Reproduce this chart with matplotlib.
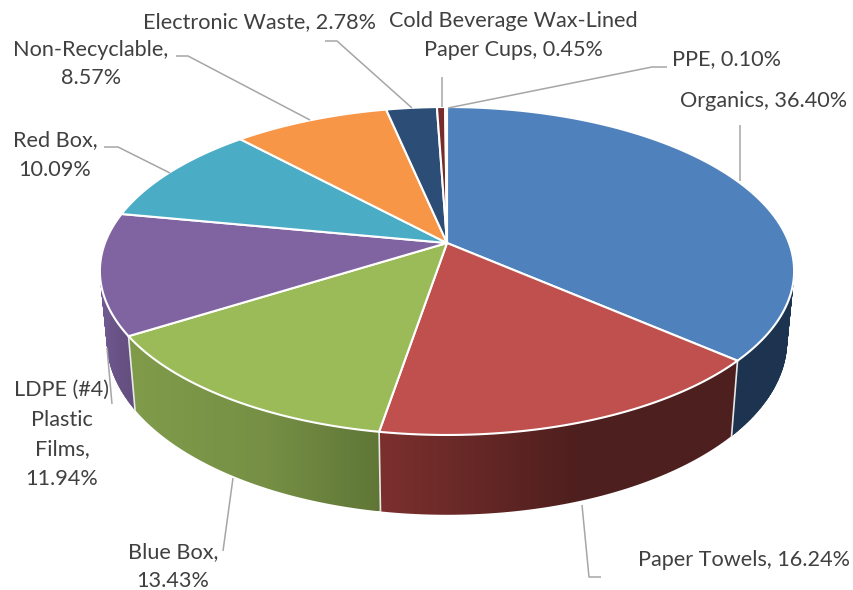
import numpy as np
import matplotlib
matplotlib.use('Agg')
import matplotlib.pyplot as plt
from matplotlib.colors import to_rgb
from matplotlib.patches import Polygon

# pie data
categories = ['Organics', 'Paper Towels', 'Blue Box', 'LDPE (#4) Plastic Films', 'Red Box',
              'Non-Recyclable', 'Electronic Waste', 'Cold Beverage Wax-Lined Paper Cups', 'PPE']
values = [36.40, 16.24, 13.43, 11.94, 10.09, 8.57, 2.78, 0.45, 0.10]

# slice colours, and the wall gradient (left, middle, right)
colors = ['#4F81BD', '#C0504D', '#9BBB59', '#8064A2', '#4BACC6', '#F79646', '#2C4D75', '#772C2A', '#5F7530']
wall_left = ['#1D3450', '#7C302E', '#809C4A', '#6F5A90', '#2F7F95', '#B86F30', '#1D3450', '#4F1E1D', '#3F4E20']
wall_mid = ['#1D3450', '#4E1F1E', '#768F45', '#685285', '#2F7F95', '#B86F30', '#1D3450', '#4F1E1D', '#3F4E20']
wall_right = ['#1D3450', '#4D1F1E', '#5F7636', '#624E7E', '#2F7F95', '#B86F30', '#1D3450', '#4F1E1D', '#3F4E20']

# label text, x centre, y of each line
labels = [
    (['Organics, 36.40%'], 764, [101]),
    (['Paper Towels, 16.24%'], 744, [560]),
    (['Blue Box,', '13.43%'], 173, [552, 581]),
    (['LDPE (#4)', 'Plastic', 'Films,', '11.94%'], 62, [390, 420, 449, 479]),
    (['Red Box,', '10.09%'], 55, [140, 170]),
    (['Non-Recyclable,', '8.57%'], 91, [50, 78]),
    (['Electronic Waste, 2.78%'], 260, [22]),
    (['Cold Beverage Wax-Lined', 'Paper Cups, 0.45%'], 513, [21, 50]),
    (['PPE, 0.10%'], 727, [59]),
]

# leader lines, pixel paths
leaders = [
    [(740, 181), (740, 125)],
    [(582, 505), (589, 577), (601, 577)],
    [(233, 478), (223, 551)],
    [(107, 348), (112, 404)],
    [(170, 173), (118, 147), (104, 147)],
    [(310, 120), (188, 56), (176, 56)],
    [(412, 108), (337, 41), (325, 41)],
    [(442, 107), (442, 77)],
    [(448, 108), (652, 67), (667, 67)],
]

# perspective of the disc
CX = 447
K = 0.1707


def top_rim(theta):
    u, v = np.sin(theta), np.cos(theta)
    w = 1 + K * v
    return CX + 342 * u / w, 243 - 159.2 * v / w


def bottom_rim(theta):
    u, v = np.sin(theta), np.cos(theta)
    w = 1 + K * v
    return CX + 335 * u / w, 311 - 169 * v / w


fig = plt.figure(figsize=(8.54, 5.9), dpi=100)
ax = fig.add_axes([0, 0, 1, 1])
ax.axis('off')

edges = np.radians(np.concatenate([[0], np.cumsum(values)]) * 3.6)

# side walls first, only the front part shows
front_start, front_end = np.radians(70), np.radians(290)
for i in range(len(values)):
    a0, a1 = max(edges[i], front_start), min(edges[i + 1], front_end)
    if a1 <= a0:
        continue
    t = np.linspace(a0, a1, 120)
    xt, yt = top_rim(t)
    xb, yb = bottom_rim(t)
    # flat sweep under the outer walls, it fills the silhouette next to the rim
    if i == 0 or i == 3:
        for j in range(len(t) - 1):
            ax.fill([xt[j], xt[j + 1], xb[j + 1], xb[j]], [yt[j], yt[j + 1], yb[j + 1], yb[j]],
                    facecolor=wall_left[i], edgecolor=wall_left[i], lw=0.3, zorder=1)
    px = np.r_[xt, xb[::-1]]
    py = np.r_[yt, yb[::-1]]
    stops = [to_rgb(wall_left[i]), to_rgb(wall_mid[i]), to_rgb(wall_right[i])]
    f = np.linspace(0, 1, 256)
    grad = np.stack([np.interp(f, [0, 0.55, 1], [s[k] for s in stops]) for k in range(3)], axis=-1)
    im = ax.imshow(grad[np.newaxis, :, :], extent=[px.min(), px.max(), py.max(), py.min()],
                   aspect='auto', zorder=2, interpolation='bilinear')
    wall = Polygon(np.column_stack([px, py]), closed=True, transform=ax.transData,
                   facecolor='none', edgecolor='none')
    ax.add_patch(wall)
    im.set_clip_path(wall)

# white seams between the walls
for a in edges[1:4]:
    xt, yt = top_rim(a)
    xb, yb = bottom_rim(a)
    ax.plot([xt, xb], [yt, yb], color='#E8E8E8', lw=1.2, zorder=3)

# top of the pie
for i in range(len(values)):
    t = np.linspace(edges[i], edges[i + 1], 200)
    xt, yt = top_rim(t)
    ax.fill(np.r_[CX, xt], np.r_[243, yt], facecolor=colors[i], edgecolor='white', lw=1.5,
            joinstyle='round', zorder=4)

# leaders and labels
for path in leaders:
    xs, ys = zip(*path)
    ax.plot(xs, ys, color='#A6A6A6', lw=1.1, zorder=5, solid_capstyle='butt')

for lines, x, ys in labels:
    for line, y in zip(lines, ys):
        ax.text(x, y, line, ha='center', va='center', fontsize=15.6, family='Lato', color='#404040', zorder=6)

ax.set_xlim(0, 854)
ax.set_ylim(590, 0)
fig.savefig('out.png', dpi=100)
